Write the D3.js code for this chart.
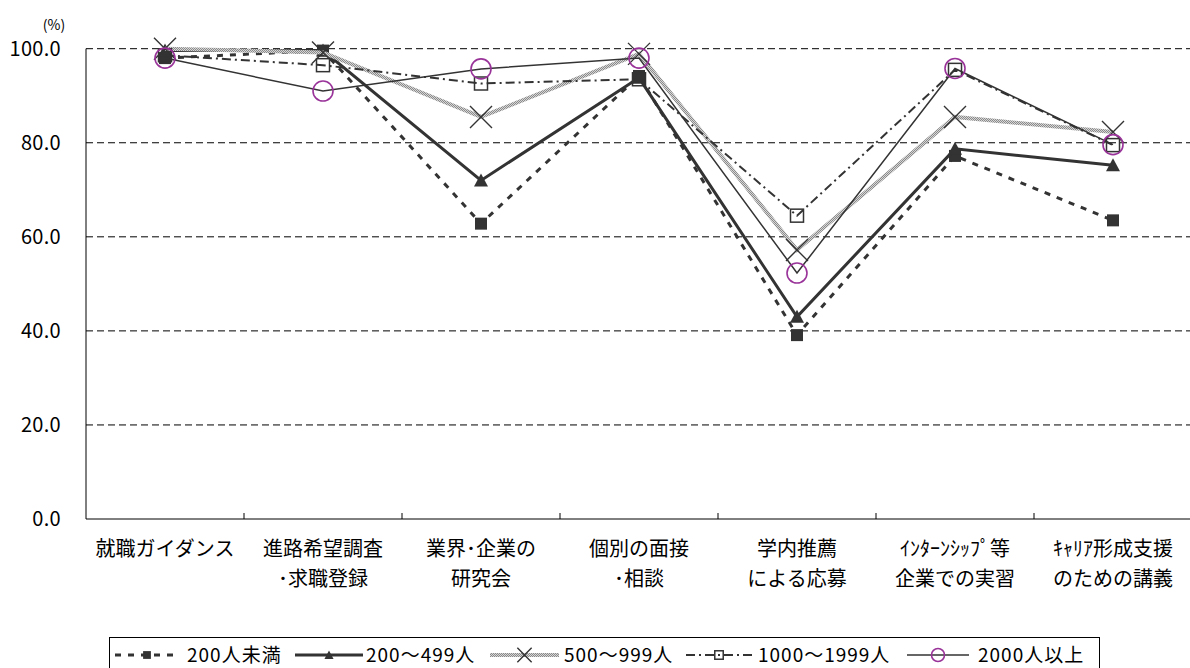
<!DOCTYPE html>
<html>
<head>
<meta charset="utf-8">
<script src="https://cdn.jsdelivr.net/npm/d3@7"></script>
<style>
  body { margin: 0; background: #fff; }
  text { font-family: "Noto Sans CJK JP", "Noto Sans", sans-serif; fill: #000; }
</style>
</head>
<body>
<div class="canvas"></div>
<script>
// categories (two lines each)
const categories = ["c1", "c2", "c3", "c4", "c5", "c6", "c7"];
const categoryLabels = [
  ["就職ガイダンス"],
  ["進路希望調査", "･求職登録"],
  ["業界･企業の", "研究会"],
  ["個別の面接", "･相談"],
  ["学内推薦", "による応募"],
  ["ｲﾝﾀｰﾝｼｯﾌﾟ等", "企業での実習"],
  ["ｷｬﾘｱ形成支援", "のための講義"]
];
const seriesNames = ["200人未満", "200～499人", "500～999人", "1000～1999人", "2000人以上"];
const under200   = [98.0, 99.6, 62.8, 94.2, 39.1, 77.2, 63.5];
const s200to499  = [99.6, 99.6, 72.0, 93.8, 43.0, 78.7, 75.2];
const s500to999  = [100.0, 99.2, 85.5, 98.9, 57.2, 85.5, 82.3];
const s1000to1999 = [98.6, 96.5, 92.6, 93.5, 64.5, 95.5, 79.5];
const over2000   = [98.0, 91.0, 95.7, 98.0, 52.3, 95.8, 79.6];
const yTicks = [0, 20, 40, 60, 80, 100];

const W = 1190, H = 668;
const plot = {left: 86, right: 1192, top: 48.7, bottom: 519};

const svg = d3.select('.canvas').append('svg')
    .attr('width', W).attr('height', H);

// texture for the grey line
const defs = svg.append('defs');
const pat = defs.append('pattern')
    .attr('id', 'grain').attr('patternUnits', 'userSpaceOnUse')
    .attr('width', 2).attr('height', 2);
pat.append('rect').attr('width', 2).attr('height', 2).attr('fill', '#d6d6d6');
pat.append('rect').attr('width', 1).attr('height', 1).attr('fill', '#8a8a8a');
pat.append('rect').attr('x', 1).attr('y', 1).attr('width', 1).attr('height', 1).attr('fill', '#8a8a8a');

const x = d3.scaleBand().domain(categories).range([plot.left, plot.right]);
const y = d3.scaleLinear().domain([0, 100]).range([plot.bottom, plot.top]);

// gridlines
svg.append('g').selectAll('line')
    .data(yTicks.filter(d => d > 0))
    .join('line')
    .attr('x1', plot.left).attr('x2', plot.right)
    .attr('y1', d => y(d)).attr('y2', d => y(d))
    .attr('stroke', '#000').attr('stroke-width', 1)
    .attr('stroke-dasharray', '7,4');

// y axis labels
svg.append('g').selectAll('text')
    .data(yTicks)
    .join('text')
    .attr('x', 61).attr('y', d => y(d))
    .attr('dy', '0.35em')
    .attr('text-anchor', 'end')
    .attr('font-size', 20)
    .attr('letter-spacing', 0.3)
    .text(d => d3.format('.1f')(d));

svg.append('text').attr('x', 54).attr('y', 25).attr('dy', '0.35em')
    .attr('text-anchor', 'middle').attr('font-size', 14).text('(%)');

// axes lines
svg.append('line').attr('x1', plot.left).attr('x2', plot.left)
    .attr('y1', plot.top).attr('y2', plot.bottom).attr('stroke', '#000');
svg.append('line').attr('x1', plot.left).attr('x2', plot.right)
    .attr('y1', plot.bottom).attr('y2', plot.bottom).attr('stroke', '#000');

// category boundary ticks
svg.append('g').selectAll('line')
    .data(categories.slice(1))
    .join('line')
    .attr('x1', d => x(d)).attr('x2', d => x(d))
    .attr('y1', plot.bottom).attr('y2', plot.bottom - 6)
    .attr('stroke', '#000');

// category labels
const lab = svg.append('g').selectAll('text')
    .data(categories)
    .join('text')
    .attr('text-anchor', 'middle')
    .attr('font-size', 20);
lab.each(function(d, i) {
  d3.select(this).selectAll('tspan')
    .data(categoryLabels[i])
    .join('tspan')
    .attr('x', x(d) + x.bandwidth() / 2)
    .attr('y', (t, j) => 549 + j * 30)
    .attr('dy', '0.35em')
    .text(t => t);
});

// marker drawing
const dark = '#333';
const purple = '#993399';
function marker(g, type, cx, cy, k) {
  if (type === 'square') {
    g.append('rect').attr('x', cx - 6 * k).attr('y', cy - 6 * k)
      .attr('width', 12 * k).attr('height', 12 * k).attr('fill', dark);
  } else if (type === 'tri') {
    g.append('path')
      .attr('d', `M${cx},${cy - 7 * k}L${cx + 7 * k},${cy + 6 * k}L${cx - 7 * k},${cy + 6 * k}Z`)
      .attr('fill', dark);
  } else if (type === 'x') {
    const s = 11 * k;
    g.append('path')
      .attr('d', `M${cx - s},${cy - s}L${cx + s},${cy + s}M${cx - s},${cy + s}L${cx + s},${cy - s}`)
      .attr('stroke', dark).attr('stroke-width', 1.4).attr('fill', 'none');
  } else if (type === 'open') {
    g.append('rect').attr('x', cx - 6.5 * k).attr('y', cy - 6.5 * k)
      .attr('width', 13 * k).attr('height', 13 * k)
      .attr('fill', 'none').attr('stroke', dark).attr('stroke-width', 1.5);
  } else if (type === 'circle') {
    g.append('circle').attr('cx', cx).attr('cy', cy).attr('r', 10 * k)
      .attr('fill', 'none').attr('stroke', purple).attr('stroke-width', 1.6);
  }
}

const series = [
  {name: seriesNames[0], values: under200,    stroke: dark, width: 3,   dash: '6,7',     mark: 'square'},
  {name: seriesNames[1], values: s200to499,   stroke: dark, width: 3,   dash: null,      mark: 'tri'},
  {name: seriesNames[2], values: s500to999,   stroke: 'url(#grain)', width: 4, dash: null, mark: 'x'},
  {name: seriesNames[3], values: s1000to1999, stroke: dark, width: 2,   dash: '9,4,2,4', mark: 'open'},
  {name: seriesNames[4], values: over2000,    stroke: dark, width: 1.5, dash: null,      mark: 'circle'}
];

const line = d3.line()
    .x((d, i) => x(categories[i]) + x.bandwidth() / 2)
    .y(d => y(d));

series.forEach(s => {
  const g = svg.append('g');
  g.append('path').attr('d', line(s.values))
    .attr('fill', 'none').attr('stroke', s.stroke)
    .attr('stroke-width', s.width)
    .attr('stroke-dasharray', s.dash);
  s.values.forEach((v, i) => marker(g, s.mark, x(categories[i]) + x.bandwidth() / 2, y(v), 1));
});

// legend
const legend = svg.append('g');
legend.append('rect').attr('x', 109.5).attr('y', 637.5)
    .attr('width', 990).attr('height', 40)
    .attr('fill', 'none').attr('stroke', '#000');
const legendItems = [
  {x0: 115, x1: 179, tx: 187},
  {x0: 295, x1: 363, tx: 366},
  {x0: 490, x1: 559, tx: 564},
  {x0: 686, x1: 752, tx: 758},
  {x0: 907, x1: 969, tx: 978}
];
series.forEach((s, i) => {
  const it = legendItems[i];
  const ly = 655;
  const g = legend.append('g');
  g.append('line').attr('x1', it.x0).attr('x2', it.x1)
    .attr('y1', ly).attr('y2', ly)
    .attr('stroke', s.stroke).attr('stroke-width', s.width)
    .attr('stroke-dasharray', s.dash);
  marker(g, s.mark, (it.x0 + it.x1) / 2, ly, 0.65);
  g.append('text').attr('x', it.tx).attr('y', ly).attr('dy', '0.35em')
    .attr('font-size', 19).attr('letter-spacing', 1).text(s.name);
});
</script>
</body>
</html>
